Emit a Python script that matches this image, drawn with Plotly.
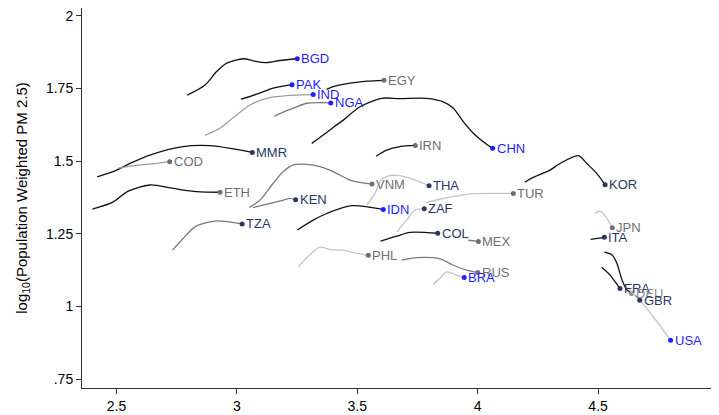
import plotly.graph_objects as go

# ---- data ----
bgd_x = [2.794, 2.868, 2.916, 2.958, 3.027, 3.068, 3.124, 3.179, 3.251]
bgd_y = [1.727, 1.762, 1.808, 1.837, 1.852, 1.845, 1.839, 1.846, 1.852]
pak_x = [3.017, 3.082, 3.151, 3.229]
pak_y = [1.713, 1.730, 1.751, 1.763]
ind_x = [2.868, 2.930, 2.999, 3.054, 3.124, 3.207, 3.317]
ind_y = [1.589, 1.613, 1.659, 1.693, 1.716, 1.725, 1.729]
nga_x = [3.155, 3.234, 3.290, 3.390]
nga_y = [1.655, 1.682, 1.699, 1.700]
egy_x = [3.373, 3.400, 3.470, 3.539, 3.611]
egy_y = [1.747, 1.756, 1.768, 1.775, 1.778]
chn_x = [3.311, 3.359, 3.400, 3.442, 3.511, 3.601, 3.677, 3.788, 3.857, 3.899, 3.940, 3.982, 4.037, 4.062]
chn_y = [1.561, 1.590, 1.616, 1.641, 1.687, 1.716, 1.715, 1.716, 1.704, 1.682, 1.636, 1.596, 1.558, 1.544]
irn_x = [3.578, 3.622, 3.677, 3.741]
irn_y = [1.517, 1.538, 1.550, 1.554]
mmr_x = [2.420, 2.501, 2.556, 2.639, 2.777, 2.888, 2.985, 3.064]
mmr_y = [1.446, 1.469, 1.492, 1.521, 1.550, 1.553, 1.542, 1.530]
cod_x = [2.507, 2.598, 2.667, 2.721]
cod_y = [1.476, 1.487, 1.492, 1.498]
eth_x = [2.400, 2.487, 2.549, 2.639, 2.736, 2.833, 2.930]
eth_y = [1.335, 1.360, 1.397, 1.418, 1.406, 1.395, 1.393]
ken_x = [3.066, 3.124, 3.193, 3.221, 3.244]
ken_y = [1.340, 1.352, 1.366, 1.372, 1.367]
tza_x = [2.733, 2.777, 2.826, 2.909, 3.022]
tza_y = [1.194, 1.234, 1.274, 1.294, 1.284]
vnm_x = [3.052, 3.096, 3.151, 3.193, 3.234, 3.290, 3.345, 3.400, 3.470, 3.561]
vnm_y = [1.341, 1.366, 1.424, 1.464, 1.487, 1.489, 1.481, 1.464, 1.435, 1.421]
tha_x = [3.539, 3.574, 3.594, 3.629, 3.677, 3.733, 3.798]
tha_y = [1.349, 1.389, 1.429, 1.449, 1.450, 1.437, 1.415]
idn_x = [3.251, 3.317, 3.373, 3.477, 3.608]
idn_y = [1.263, 1.297, 1.320, 1.347, 1.334]
zaf_x = [3.664, 3.705, 3.740, 3.778]
zaf_y = [1.257, 1.297, 1.332, 1.336]
tur_x = [3.785, 3.843, 3.954, 4.065, 4.148]
tur_y = [1.357, 1.369, 1.386, 1.389, 1.389]
col_x = [3.597, 3.664, 3.719, 3.834]
col_y = [1.225, 1.242, 1.255, 1.252]
mex_x = [3.961, 4.003]
mex_y = [1.228, 1.224]
phl_x = [3.255, 3.345, 3.387, 3.442, 3.498, 3.546]
phl_y = [1.137, 1.204, 1.196, 1.194, 1.183, 1.176]
rus_x = [3.684, 3.747, 3.843, 3.899, 3.954, 4.000]
rus_y = [1.160, 1.168, 1.164, 1.142, 1.125, 1.117]
bra_x = [3.816, 3.843, 3.871, 3.913, 3.944]
bra_y = [1.077, 1.097, 1.119, 1.108, 1.100]
kor_x = [4.196, 4.231, 4.300, 4.342, 4.418, 4.453, 4.494, 4.529]
kor_y = [1.428, 1.444, 1.469, 1.492, 1.519, 1.492, 1.458, 1.419]
jpn_x = [4.487, 4.508, 4.529, 4.559]
jpn_y = [1.320, 1.328, 1.312, 1.271]
ita_x = [4.469, 4.526]
ita_y = [1.231, 1.238]
fra_x = [4.515, 4.550, 4.571, 4.591]
fra_y = [1.135, 1.108, 1.085, 1.062]
deu_x = [4.526, 4.557, 4.578, 4.599, 4.619, 4.639]
deu_y = [1.187, 1.178, 1.149, 1.092, 1.058, 1.045]
gbr_x = [4.655, 4.673]
gbr_y = [1.038, 1.022]
usa_x = [4.619, 4.673, 4.729, 4.771, 4.801]
usa_y = [1.066, 1.022, 0.965, 0.919, 0.884]

y_tick_vals = [0.75, 1, 1.25, 1.5, 1.75, 2]
y_tick_text = [".75", "1", "1.25", "1.5", "1.75", "2"]
x_tick_vals = [2.5, 3, 3.5, 4, 4.5, 5]
x_tick_text = ["2.5", "3", "3.5", "4", "4.5", "5"]

# ---- styles ----
BLACK = "#111111"
DGRAY = "#7a7a7a"
MGRAY = "#9e9e9e"
LGRAY = "#c4c4c4"
BLUE = "#1f1fff"
NAVY = "#2a3766"
GRAYT = "#707070"

series = [
    ("BGD", bgd_x, bgd_y, BLACK, BLUE),
    ("PAK", pak_x, pak_y, BLACK, BLUE),
    ("IND", ind_x, ind_y, MGRAY, BLUE),
    ("NGA", nga_x, nga_y, DGRAY, BLUE),
    ("EGY", egy_x, egy_y, BLACK, GRAYT),
    ("CHN", chn_x, chn_y, BLACK, BLUE),
    ("IRN", irn_x, irn_y, BLACK, GRAYT),
    ("MMR", mmr_x, mmr_y, BLACK, NAVY),
    ("COD", cod_x, cod_y, MGRAY, GRAYT),
    ("ETH", eth_x, eth_y, BLACK, GRAYT),
    ("KEN", ken_x, ken_y, DGRAY, NAVY),
    ("TZA", tza_x, tza_y, DGRAY, NAVY),
    ("VNM", vnm_x, vnm_y, DGRAY, GRAYT),
    ("THA", tha_x, tha_y, LGRAY, NAVY),
    ("IDN", idn_x, idn_y, BLACK, BLUE),
    ("ZAF", zaf_x, zaf_y, LGRAY, NAVY),
    ("TUR", tur_x, tur_y, LGRAY, GRAYT),
    ("COL", col_x, col_y, BLACK, NAVY),
    ("MEX", mex_x, mex_y, DGRAY, GRAYT),
    ("PHL", phl_x, phl_y, LGRAY, GRAYT),
    ("RUS", rus_x, rus_y, DGRAY, GRAYT),
    ("BRA", bra_x, bra_y, LGRAY, BLUE),
    ("KOR", kor_x, kor_y, BLACK, NAVY),
    ("JPN", jpn_x, jpn_y, LGRAY, GRAYT),
    ("ITA", ita_x, ita_y, BLACK, NAVY),
    ("FRA", fra_x, fra_y, BLACK, NAVY),
    ("DEU", deu_x, deu_y, BLACK, "#8c8c8c"),
    ("USA", usa_x, usa_y, LGRAY, BLUE),
    ("GBR", gbr_x, gbr_y, DGRAY, NAVY),
]

FONT = "Liberation Sans, Arial, Helvetica, sans-serif"

fig = go.Figure()
annotations = []
for name, xs, ys, lc, tc in series:
    fig.add_trace(go.Scatter(
        x=xs, y=ys, mode="lines",
        line=dict(color=lc, width=1.3, shape="spline", smoothing=0.8),
        hoverinfo="skip", showlegend=False,
    ))
    fig.add_trace(go.Scatter(
        x=[xs[-1]], y=[ys[-1]], mode="markers",
        marker=dict(color=tc, size=5, line=dict(width=0)),
        showlegend=False, name=name,
    ))
    annotations.append(dict(
        x=xs[-1], y=ys[-1], text=name, xref="x", yref="y",
        xanchor="left", yanchor="middle", xshift=2, showarrow=False,
        font=dict(family=FONT, size=13, color=tc),
    ))

# page body has an 8px default margin; figure is sized/offset to match
fig.update_layout(
    width=730, height=407,
    margin=dict(l=74, r=19, t=0, b=27, autoexpand=False),
    paper_bgcolor="white", plot_bgcolor="white",
    font=dict(family=FONT, size=14, color="black"),
    annotations=annotations,
    showlegend=False,
)
fig.update_xaxes(
    range=[2.357, 5.002], showgrid=False, zeroline=False,
    showline=True, linecolor="#333333", linewidth=1,
    ticks="outside", ticklen=5, tickcolor="#333333",
    tickvals=x_tick_vals, ticktext=x_tick_text, automargin=False,
    ticklabeloverflow="allow",
    tickfont=dict(family=FONT, size=14, color="black"),
)
fig.update_yaxes(
    range=[0.72, 2.0265], showgrid=False, zeroline=False,
    showline=True, linecolor="#333333", linewidth=1,
    ticks="outside", ticklen=5, tickcolor="#333333",
    tickvals=y_tick_vals, ticktext=y_tick_text, automargin=False,
    ticklabeloverflow="allow",
    tickfont=dict(family=FONT, size=14, color="black"),
    title=dict(text="log<sub>10</sub>(Population Weighted PM 2.5)",
               font=dict(family=FONT, size=15, color="black"), standoff=14),
)

fig.write_html("out.html")
